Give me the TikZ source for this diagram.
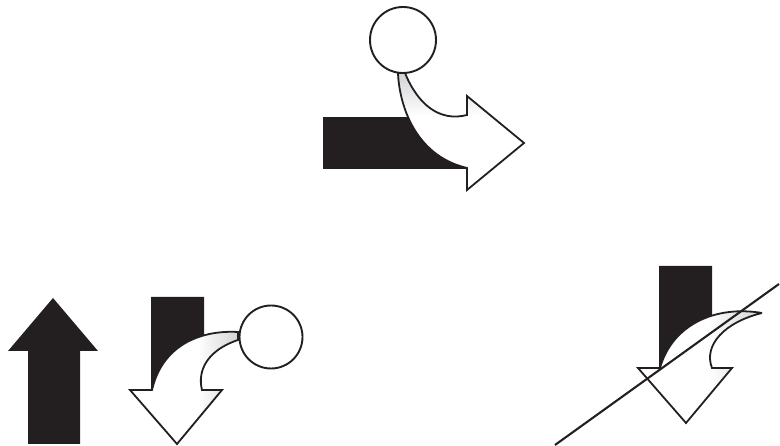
\documentclass[tikz,border=0pt]{standalone}
\definecolor{ink}{HTML}{231F20}
\definecolor{fade}{HTML}{CFD1D3}
\tikzset{
  blackshape/.style={fill=ink,draw=none},
  outline/.style={draw=ink,line width=1.8pt,line join=miter,miter limit=4},
  ringnode/.style={circle,draw=ink,line width=1.9pt,fill=white,inner sep=0pt,outer sep=0pt},
  crossline/.style={draw=ink,line width=2.1pt}
}
\newcommand{\curvedA}{(398,73) .. controls (399,100) and (412,155) .. (467,168) -- (467,190) -- (524,143) -- (467,96) -- (467,115) .. controls (440,122) and (418,105) .. (405,73) -- cycle}
\newcommand{\curvedB}{(238,332) .. controls (205,330) and (163,342) .. (152,390) -- (130,390) -- (177,444) -- (222,390) -- (202,390) .. controls (197,370) and (208,350) .. (238,340) -- cycle}
\newcommand{\curvedC}{(762,313) .. controls (715,305) and (672,325) .. (660,368) -- (638,368) -- (686,423) -- (732,368) -- (712,368) .. controls (703,345) and (725,322) .. (762,313) -- cycle}
\begin{document}
\begin{tikzpicture}[x=1pt,y=-1pt]
\useasboundingbox (0,0) rectangle (780,446);
% top figure
\path[blackshape] (323,117) rectangle (467,169);
\fill[white] \curvedA;
\begin{scope}
  \clip \curvedA;
  \shade[top color=fade,bottom color=white] (390,72) rectangle (530,116);
\end{scope}
\path[outline] \curvedA;
\node[ringnode,minimum size=66pt] (ringA) at (403,40) {};
% up arrow
\path[blackshape] (53,298) -- (98,351) -- (80,351) -- (80,444) -- (28,444) -- (28,351) -- (8,351) -- cycle;
% bottom-left figure
\path[blackshape] (151,297) -- (204,297) -- (204,345) -- (165,385) -- (152,390) -- (151,390) -- cycle;
\fill[white] \curvedB;
\begin{scope}
  \clip \curvedB;
  \shade[left color=white,right color=fade] (198,325) rectangle (240,446);
\end{scope}
\path[outline] \curvedB;
\node[ringnode,minimum size=63pt] (ringB) at (271,337) {};
% bottom-right figure
\path[blackshape] (659,266) -- (712,266) -- (712,325) -- (675,360) -- (660,368) -- (659,368) -- cycle;
\fill[white] \curvedC;
\begin{scope}
  \clip \curvedC;
  \shade[left color=white,right color=fade] (708,300) rectangle (764,430);
\end{scope}
\path[outline] \curvedC;
\coordinate (lineStart) at (555,445);
\coordinate (lineEnd) at (779,284);
\path[crossline] (lineStart) -- (lineEnd);
\end{tikzpicture}
\end{document}
